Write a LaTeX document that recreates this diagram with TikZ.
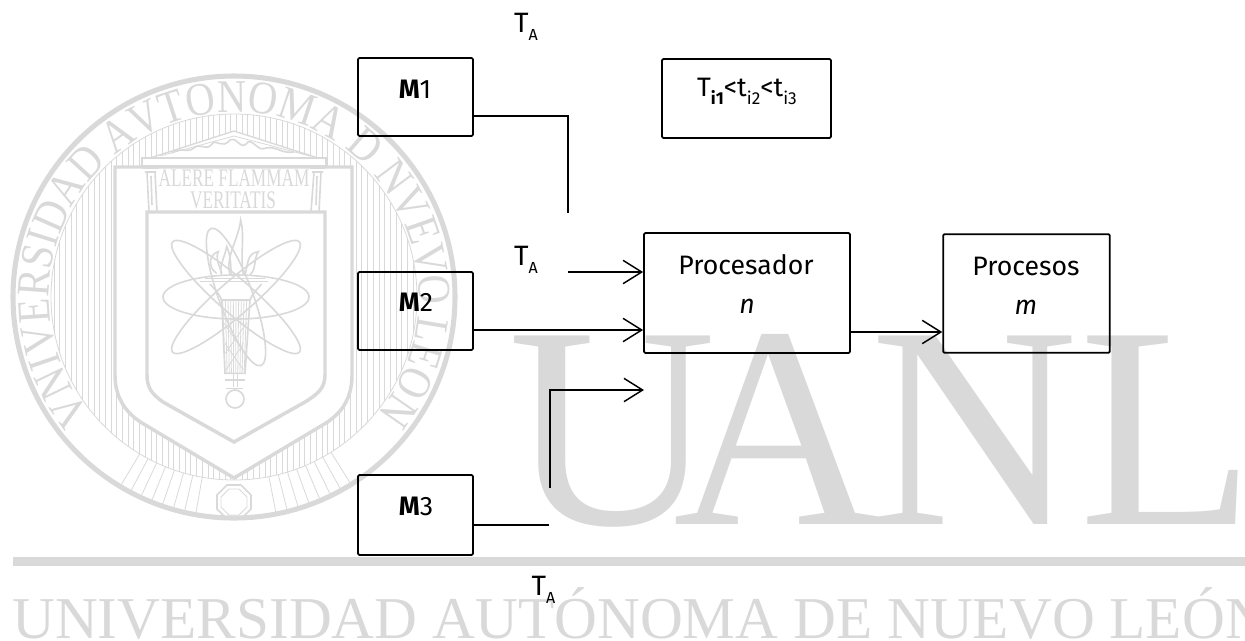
\documentclass[tikz,border=0pt]{standalone}
\usepackage{fontspec}
\setmainfont{Liberation Serif}
\newfontfamily\handfont{Fira Sans}
\newfontfamily\sealfont[FakeStretch=0.87]{Liberation Serif}
\newfontfamily\logofont[Kerning=Off]{Liberation Serif}
\usetikzlibrary{arrows.meta,decorations.text}
\definecolor{wm}{gray}{0.85}
\tikzset{
  box/.style={draw=black,line width=1.35pt,rounded corners=1pt,inner sep=0pt,align=center},
  conn/.style={draw=black,line width=1.2pt},
  arr/.style={conn,-{Straight Barb[length=14pt,width=17.5pt,line width=1.1pt]}},
  lab/.style={font=\handfont\fontsize{20}{24}\selectfont,inner sep=0pt},
  itlab/.style={font=\handfont\itshape\fontsize{20}{24}\selectfont,inner sep=0pt},
  wthin/.style={draw=wm,line width=0.6pt},
  wmid/.style={draw=wm,line width=1.2pt},
  wthick/.style={draw=wm,line width=2.6pt},
  wtext/.style={text=wm,inner sep=0pt}
}
\newcommand{\TA}{{\fontsize{21}{24}\selectfont T}\raisebox{-0.3em}{\fontsize{12}{12}\selectfont A}}
\newcommand{\Sb}[1]{\raisebox{-0.3em}{\fontsize{13}{13}\selectfont #1}}
\begin{document}
\begin{tikzpicture}[x=0.75pt,y=-0.75pt]
\useasboundingbox (0,0) rectangle (1245,640);
\clip (0,0) rectangle (1245,640);
% ---------- watermark seal
\draw[wm,line width=3.8pt] (234,297) circle (221);
\draw[wthin] (234,297) circle (183);
\begin{scope}
\clip (234,297) circle (183);
\foreach \x in {54,59.7,...,420} {\draw[wthin] (\x,100) -- (\x,490);}
\end{scope}
\foreach \a in {58,61,...,80,100,103,...,122} {\draw[wthin] (234,297) ++(\a:183) -- ++(\a:36);}
% outer shield
\path[fill=white,draw=wm,line width=2.6pt] (115,167) -- (352,167) -- (352,375) .. controls (352,400) and (340,414) .. (326,423) -- (234,478) -- (142,423) .. controls (128,414) and (115,400) .. (115,375) -- cycle;
% pediment
\path[fill=white,draw=wm,line width=1pt] (150,158) -- (234,131) -- (318,158) -- cycle;
\draw[wthin] (160,156) -- (234,136) -- (310,156);
\draw[wmid] (172,153) .. controls (180,146) and (186,154) .. (194,148) .. controls (200,142) and (206,152) .. (212,144) .. controls (216,138) and (222,150) .. (230,140) .. controls (238,136) and (240,152) .. (248,142) .. controls (254,140) and (258,152) .. (266,148) .. controls (276,146) and (282,154) .. (294,152);
\path[fill=white,draw=wm,line width=1pt] (142,158) rectangle (326,166);
% columns
\draw[wmid] (143,168) -- (158,168) (145,172) -- (156,172) (147,172) -- (149,212) (155,172) -- (157,212) (151,176) -- (152,205);
\draw[wmid] (310,168) -- (325,168) (312,172) -- (323,172) (321,172) -- (319,212) (314,172) -- (311,212) (317,176) -- (316,205);
\node[wtext,font=\fontsize{19}{19}\selectfont] (alere) at (234,178.5) {\scalebox{0.68}[1]{ALERE FLAMMAM}};
\node[wtext,font=\fontsize{19}{19}\selectfont] (verit) at (233,200.5) {\scalebox{0.68}[1]{VERITATIS}};
% inner shield
\draw[wthick] (147,212) -- (325,212) -- (325,375) .. controls (325,388) and (318,394) .. (305,402) -- (234,442) -- (163,402) .. controls (152,394) and (147,388) .. (147,375) -- cycle;
% atom
\begin{scope}[wmid]
\draw[shift={(236,297)}] (0,0) ellipse [x radius=73,y radius=22];
\draw[shift={(236,297)},rotate=-41] (0,0) ellipse [x radius=84,y radius=17];
\draw[shift={(236,297)},rotate=41] (0,0) ellipse [x radius=84,y radius=17];
\draw[shift={(236,297)},rotate=-70] (0,0) ellipse [x radius=73,y radius=17];
\end{scope}
% torch, drawn in zoom units
\begin{scope}[shift={(150,210)},x=0.25pt,y=-0.25pt,wthin]
\draw[wmid] (150,215) -- (355,215) (165,205) -- (345,205);
\draw[wmid] (215,270) .. controls (205,245) and (190,235) .. (180,222);
\draw[wmid] (300,270) .. controls (310,245) and (325,235) .. (335,222);
\foreach \i in {0,8,...,72} {\draw (218+\i,270) -- (225+\i*0.8,490);}
\draw[wmid] (215,270) -- (300,270) -- (285,490) -- (225,490) -- cycle;
\draw (222,340) -- (285,430) (290,340) -- (225,430) (225,400) -- (280,480) (280,400) -- (228,480);
\draw[wmid] (225,510) -- (285,510) (250,490) -- (250,530) (262,490) -- (262,530) (228,535) -- (280,535);
\draw[wmid] (255,567) circle (27);
\draw[wmid] (240,195) .. controls (225,140) and (265,90) .. (272,30) .. controls (285,80) and (270,130) .. (280,195);
\draw[wmid] (215,195) .. controls (205,170) and (225,140) .. (230,110) .. controls (245,140) and (240,170) .. (245,195);
\draw[wmid] (285,195) .. controls (295,160) and (290,130) .. (325,125) .. controls (310,150) and (320,175) .. (300,195);
\draw[wmid] (200,190) .. controls (170,170) and (180,130) .. (205,125) .. controls (195,145) and (210,170) .. (215,190);
\end{scope}
% seal inscription
\path[decoration={text along path,text align=center,
  text={|\sealfont\fontsize{35}{35}\selectfont\color{wm}|VNIVERSIDAD AVTONOMA D NVEVO LEON}},decorate]
  (234,297) ++(143:185) arc[start angle=143,end angle=397,radius=185];
% octagon
\draw[wm,line width=1.2pt,shift={(234,502)}] (-7,-17) -- (7,-17) -- (17,-7) -- (17,7) -- (7,17) -- (-7,17) -- (-17,7) -- (-17,-7) -- cycle;
\draw[wthin,shift={(234,502)}] (-5,-13) -- (5,-13) -- (13,-5) -- (13,5) -- (5,13) -- (-5,13) -- (-13,5) -- (-13,-5) -- cycle;
% UANL
\node[wtext,font=\logofont\fontsize{216}{216}\selectfont,anchor=base west] (uanl) at (508,524) {U\kern-32.5pt A\kern-7.7pt N\kern1.3pt L};
\fill[wm] (13,557) rectangle (1245,566);
\node[wtext,font=\fontsize{44.5}{44.5}\selectfont,anchor=base west] (uni) at (12,638) {UNIVERSIDAD AUTÓNOMA DE NUEVO LEÓN};
% ---------- diagram
\node[box,minimum width=86.25pt,minimum height=58.5pt] (m1) at (415.5,97) {};
\node[box,minimum width=86.25pt,minimum height=58.5pt] (m2) at (415.5,311) {};
\node[box,minimum width=86.25pt,minimum height=60pt] (m3) at (415.5,515) {};
\node[box,minimum width=126.75pt,minimum height=59.25pt] (ts) at (746.5,98.5) {};
\node[box,minimum width=154.5pt,minimum height=90pt] (pr) at (747,293) {};
\node[box,minimum width=125pt,minimum height=89pt] (ps) at (1026.5,293.5) {};
\node[lab] (l1) at (415,89) {\textbf{M}1};
\node[lab] (l2) at (416,302) {\textbf{M}2};
\node[lab] (l3) at (416,506) {\textbf{M}3};
\node[lab] (lpr) at (746,265) {Procesador};
\node[itlab] (ln) at (747,306) {n};
\node[lab] (lps) at (1026,266) {Procesos};
\node[itlab] (lm) at (1026,307) {m};
\node[lab] (t1) at (526,27) {\TA};
\node[lab] (t2) at (526,260) {\TA};
\node[lab] (t3) at (543.5,590) {\TA};
\node[lab,font=\handfont\fontsize{20}{24}\selectfont] (lt) at (747,91) {T\Sb{\textbf{i1}}<t\Sb{i2}<t\Sb{i3}};
\coordinate (a) at (568,213);
\coordinate (b) at (568,272);
\coordinate (c) at (473,525);
\coordinate (d) at (549,525);
\coordinate (e) at (550,488);
\coordinate (f) at (644,390);
\draw[conn] (473,116) -- (568,116) -- (a);
\draw[arr] (b) -- (b -| pr.west);
\draw[arr] (m2.east |- 0,330) -- (pr.west |- 0,330);
\draw[conn] (c) -- (d);
\draw[arr] (e) |- (f);
\draw[arr] (pr.east |- 0,332) -- (ps.west |- 0,332);
\end{tikzpicture}
\end{document}
